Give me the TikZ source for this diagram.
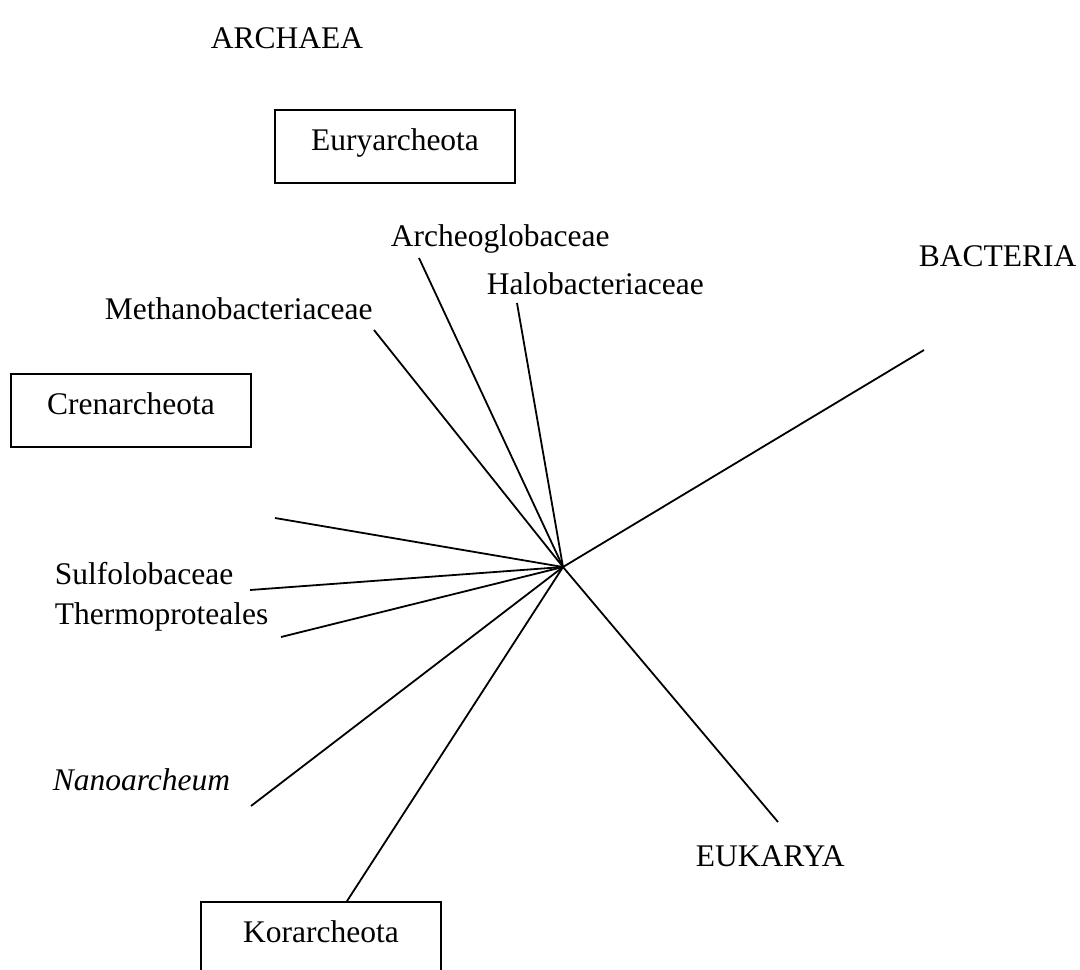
\documentclass[tikz,border=0pt]{standalone}
\usepackage{fontspec}
\setmainfont{Liberation Serif}
\begin{document}
\begin{tikzpicture}[x=1pt,y=-1pt,line width=1.8pt,every node/.style={font=\fontsize{31.5}{38}\selectfont,inner sep=0pt},taxon/.style={draw,minimum width=240pt,minimum height=73pt,text height=0.86em,text depth=0em},leaf/.style={anchor=base west}]
\clip (0,0) rectangle (1080,970);
\coordinate (root) at (563,567);
\node[taxon] (eury) at (395,146.5) {Euryarcheota};
\node[taxon] (cren) at (131,410.5) {Crenarcheota};
\node[taxon] (kor) at (321,938.5) {Korarcheota};
\node[leaf] (archaea) at (210,48) {ARCHAEA};
\node[leaf] (bact) at (918,266) {BACTERIA};
\node[leaf] (methano) at (104,319) {Methanobacteriaceae};
\node[leaf] (archeo) at (390,246) {Archeoglobaceae};
\node[leaf] (halo) at (486,294) {Halobacteriaceae};
\node[leaf] (sulfo) at (54,584) {Sulfolobaceae};
\node[leaf] (thermo) at (54,624) {Thermoproteales};
\node[leaf] (nano) at (52,790) {\itshape Nanoarcheum};
\node[leaf] (euk) at (695,866) {EUKARYA};
\coordinate (bact end) at (924,350);
\coordinate (euk end) at (778,822);
\coordinate (kor end) at ([xshift=26pt]kor.north);
\coordinate (nano end) at (251,806);
\coordinate (thermo end) at (281,637);
\coordinate (sulfo end) at (250,590);
\coordinate (bare end) at (275,518);
\coordinate (methano end) at (374,330);
\coordinate (archeo end) at (419,258);
\coordinate (halo end) at (517,303);
\foreach \e in {bact,euk,kor,nano,thermo,sulfo,bare,methano,archeo,halo}
  \draw (root) -- (\e\space end);
\end{tikzpicture}
\end{document}
